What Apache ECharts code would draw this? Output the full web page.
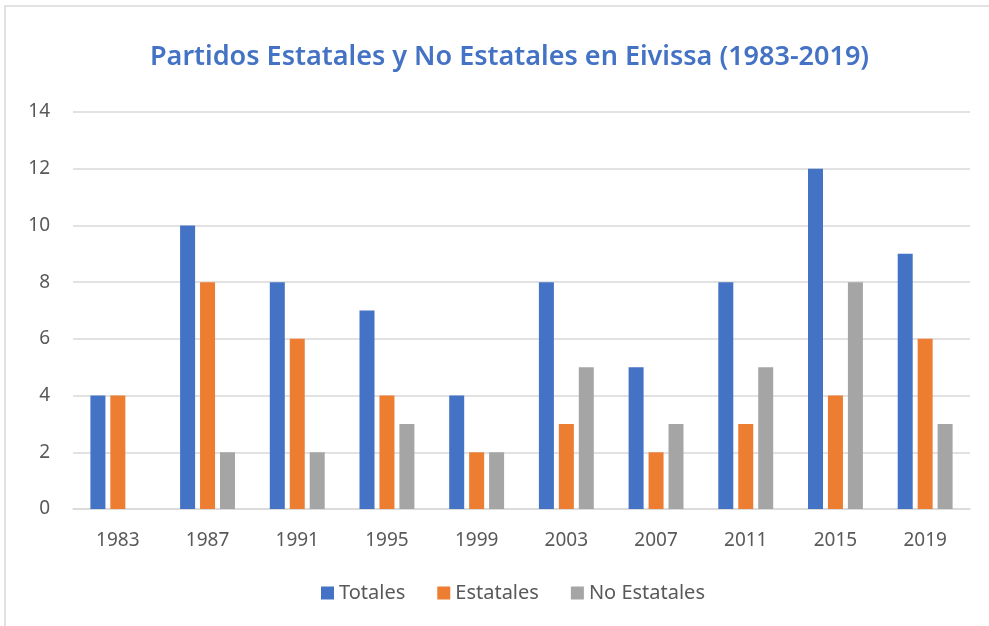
<!DOCTYPE html>
<html>
<head>
    <meta charset="utf-8">
    <title>Partidos Estatales y No Estatales en Eivissa</title>
    <script src="https://cdn.jsdelivr.net/npm/echarts@6/dist/echarts.min.js"></script>
    <style>
        html, body { margin: 0; padding: 0; background: #fff; }
        #chart { width: 989px; height: 626px; }
    </style>
</head>
<body>
    <div id="chart"></div>
    <script>
        var years = ['1983', '1987', '1991', '1995', '1999', '2003', '2007', '2011', '2015', '2019'];
        var totales = [4, 10, 8, 7, 4, 8, 5, 8, 12, 9];
        var estatales = [4, 8, 6, 4, 2, 3, 2, 3, 4, 6];
        var noEstatales = [0, 2, 2, 3, 2, 5, 3, 5, 8, 3];

        var font = 'Noto Sans';
        var chart = echarts.init(document.getElementById('chart'));

        function bar(name, data, color) {
            return {
                name: name,
                type: 'bar',
                data: data,
                barWidth: 15,
                barGap: '33%',
                itemStyle: { color: color },
                emphasis: { disabled: true }
            };
        }

        chart.setOption({
            animation: false,
            graphic: [{
                type: 'rect',
                shape: { x: 5, y: 6, width: 1000, height: 700 },
                style: { fill: 'none', stroke: '#d9d9d9', lineWidth: 1.5 },
                silent: true
            }],
            title: {
                text: 'Partidos Estatales y No Estatales en Eivissa (1983-2019)',
                left: 145,
                top: 39,
                textStyle: { color: '#4472c4', fontFamily: font, fontSize: 27, fontWeight: 600 }
            },
            legend: {
                bottom: 18,
                left: 316,
                itemWidth: 13,
                itemHeight: 13,
                itemGap: 32,
                icon: 'rect',
                textStyle: { color: '#595959', fontFamily: font, fontSize: 20 },
                data: ['Totales', 'Estatales', 'No Estatales']
            },
            grid: { left: 73, right: 19, top: 112, bottom: 117, containLabel: false },
            xAxis: {
                type: 'category',
                data: years,
                axisTick: { show: false },
                axisLine: { lineStyle: { color: '#d9d9d9', width: 1.5 } },
                axisLabel: { color: '#595959', fontFamily: font, fontSize: 19, margin: 22 }
            },
            yAxis: {
                type: 'value',
                min: 0,
                max: 14,
                interval: 2,
                axisLine: { show: false },
                axisTick: { show: false },
                splitLine: { lineStyle: { color: '#d9d9d9', width: 1.5 } },
                axisLabel: { color: '#595959', fontFamily: font, fontSize: 19, margin: 23 }
            },
            series: [
                bar('Totales', totales, '#4472c4'),
                bar('Estatales', estatales, '#ed7d31'),
                bar('No Estatales', noEstatales, '#a5a5a5')
            ]
        });
    </script>
</body>
</html>
